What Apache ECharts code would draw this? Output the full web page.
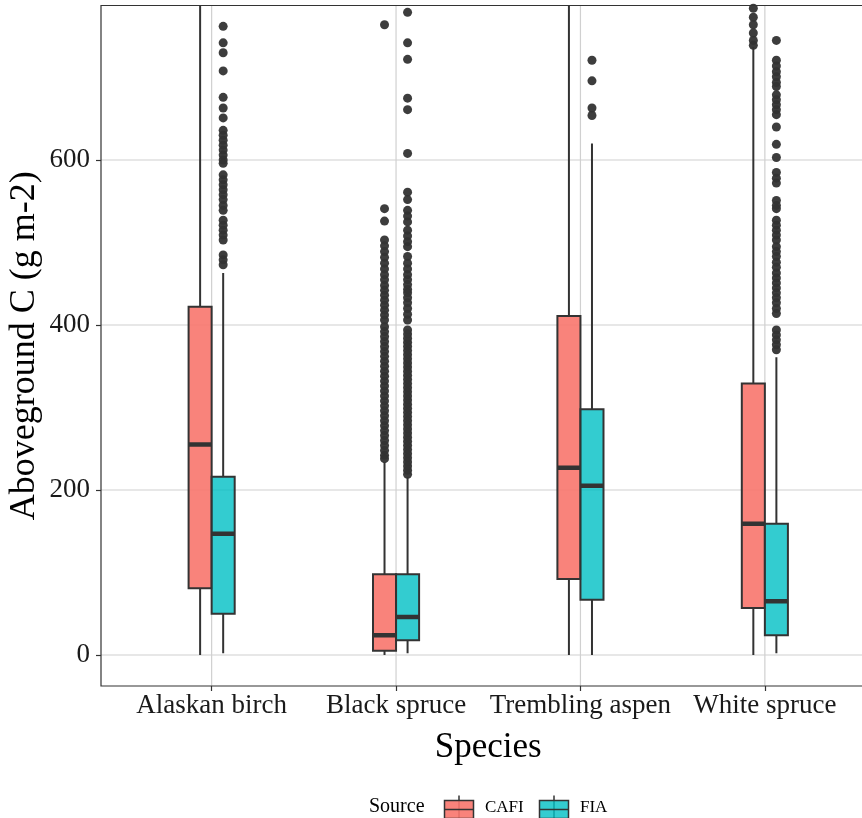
<!DOCTYPE html>
<html>
<head>
<meta charset="utf-8">
<script src="https://cdn.jsdelivr.net/npm/echarts@6/dist/echarts.min.js"></script>
<style>html,body{margin:0;padding:0;background:#fff}#c{width:862px;height:818px}</style>
</head>
<body>
<div id="c"></div>
<script>
// ---- data ----
const categories = ['Alaskan birch', 'Black spruce', 'Trembling aspen', 'White spruce'];
const sources = ['CAFI', 'FIA'];
const yTicks = [0, 200, 400, 600];
// [lower whisker, Q1, median, Q3, upper whisker]
const cafiStats = [
  [0, 81, 255, 422, 850],
  [0, 5, 24, 98, 234],
  [0, 92, 227, 411, 850],
  [0, 57, 159, 329, 737]
];
const fiaStats = [
  [2, 50, 147, 216, 463],
  [2, 18, 46, 98, 216],
  [0, 67, 205, 298, 620],
  [2, 24, 65, 159, 361]
];
const cafiOutliers = [
  [],
  [764, 541, 526, 503, 496, 489, 482, 475, 468, 461, 455, 448, 442, 436, 430, 424, 418, 412, 406, 398, 392, 386, 380, 374, 368, 362, 356, 350, 344, 338, 332, 326, 320, 314, 308, 302, 296, 290, 284, 278, 272, 266, 260, 254, 248, 242, 238],
  [],
  [784, 773, 764, 754, 745, 739]
];
const fiaOutliers = [
  [762, 742, 730, 708, 676, 663, 651, 636, 630, 624, 618, 612, 606, 600, 596, 582, 576, 570, 564, 558, 552, 545, 539, 527, 521, 515, 509, 503, 485, 479, 473],
  [779, 742, 722, 675, 661, 608, 561, 552, 539, 532, 525, 515, 508, 501, 495, 483, 475, 468, 461, 455, 449, 443, 439, 433, 427, 420, 413, 406, 394, 389, 384, 379, 374, 369, 364, 359, 354, 349, 344, 339, 334, 329, 324, 319, 314, 309, 304, 299, 294, 289, 284, 279, 274, 269, 264, 259, 254, 249, 244, 239, 234, 229, 224, 219],
  [721, 696, 663, 654],
  [745, 721, 714, 707, 701, 694, 689, 679, 673, 667, 661, 655, 640, 619, 603, 585, 578, 572, 551, 545, 541, 527, 521, 515, 509, 503, 495, 489, 483, 476, 470, 463, 457, 451, 445, 439, 433, 427, 420, 414, 394, 388, 382, 376, 370]
];

// ---- styling ----
const COLORS = { CAFI: 'rgba(248,118,109,0.9)', FIA: 'rgba(0,191,196,0.8)' };
const DODGE = 0.0625, BOX_W = 0.125;
const FONT = '"Liberation Serif", "Times New Roman", serif';
const INK = '#333333';

const chart = echarts.init(document.getElementById('c'), null, { renderer: 'canvas' });

function boxData(stats, off) {
  return stats.map((s, i) => [i + off].concat(s));
}
function outlierData(lists, off) {
  const out = [];
  lists.forEach((l, i) => l.forEach(v => out.push([i + off, v])));
  return out;
}
function renderBox(fill) {
  return function (params, api) {
    const x = api.value(0);
    const lo = api.coord([x, api.value(1)]);
    const q1 = api.coord([x, api.value(2)]);
    const md = api.coord([x, api.value(3)]);
    const q3 = api.coord([x, api.value(4)]);
    const hi = api.coord([x, api.value(5)]);
    const w = api.size([BOX_W, 0])[0];
    const ls = { stroke: INK, lineWidth: 2 };
    return {
      type: 'group',
      children: [
        { type: 'line', shape: { x1: lo[0], y1: lo[1], x2: q1[0], y2: q1[1] }, style: ls },
        { type: 'line', shape: { x1: q3[0], y1: q3[1], x2: hi[0], y2: hi[1] }, style: ls },
        { type: 'rect', shape: { x: q3[0] - w / 2, y: q3[1], width: w, height: q1[1] - q3[1] }, style: { fill: fill, stroke: INK, lineWidth: 2 } },
        { type: 'line', shape: { x1: md[0] - w / 2, y1: md[1], x2: md[0] + w / 2, y2: md[1] }, style: { stroke: INK, lineWidth: 4.5 } }
      ]
    };
  };
}
function renderVGrid(params, api) {
  const cs = params.coordSys;
  const p = api.coord([api.value(0), 0]);
  return { type: 'line', shape: { x1: p[0], y1: cs.y, x2: p[0], y2: cs.y + cs.height }, style: { stroke: '#d0d0d0', lineWidth: 1.2 } };
}
function renderHGrid(params, api) {
  const cs = params.coordSys;
  const p = api.coord([0, api.value(0)]);
  return { type: 'line', shape: { x1: cs.x, y1: p[1], x2: cs.x + cs.width, y2: p[1] }, style: { stroke: '#d0d0d0', lineWidth: 1.2 } };
}

const option = {
  animation: false,
  backgroundColor: '#ffffff',
  grid: { left: 101, top: 5.5, width: 774.5, height: 680.5, outerBoundsMode: 'none', containLabel: false, show: true, borderColor: INK, borderWidth: 1.2, backgroundColor: 'transparent', z: 10 },
  xAxis: {
    type: 'value', min: -0.6, max: 3.6,
    name: 'Species', nameLocation: 'middle', nameGap: 44, nameMoveOverlap: false,
    nameTextStyle: { fontFamily: FONT, fontSize: 35, color: '#000' },
    axisLine: { show: false, onZero: false },
    axisTick: { show: true, length: 5, lineStyle: { color: INK, width: 1.2 }, customValues: [0, 1, 2, 3] },
    axisLabel: { fontFamily: FONT, fontSize: 27, color: '#1a1a1a', margin: 6, customValues: [0, 1, 2, 3], formatter: v => categories[Math.round(v)] },
    splitLine: { show: false }
  },
  yAxis: {
    type: 'value', min: -37.6, max: 787.3,
    name: 'Aboveground C (g m-2)', nameLocation: 'middle', nameGap: 58, nameMoveOverlap: false,
    nameTextStyle: { fontFamily: FONT, fontSize: 36, color: '#000' },
    axisLine: { show: false, onZero: false },
    axisTick: { show: true, length: 5, lineStyle: { color: INK, width: 1.2 }, customValues: yTicks },
    axisLabel: { fontFamily: FONT, fontSize: 27, color: '#1a1a1a', margin: 11, customValues: yTicks },
    splitLine: { show: false }
  },
  series: [
    { type: 'custom', name: 'vgrid', renderItem: renderVGrid, data: categories.map((c, i) => [i]), z: 0, silent: true },
    { type: 'custom', name: 'hgrid', renderItem: renderHGrid, data: yTicks.map(v => [v]), z: 0, silent: true },
    { type: 'custom', name: sources[0], renderItem: renderBox(COLORS.CAFI), data: boxData(cafiStats, -DODGE), clip: true, z: 2, encode: { x: 0, y: [1, 2, 3, 4, 5] } },
    { type: 'custom', name: sources[1], renderItem: renderBox(COLORS.FIA), data: boxData(fiaStats, DODGE), clip: true, z: 2, encode: { x: 0, y: [1, 2, 3, 4, 5] } },
    { type: 'scatter', name: 'CAFI outliers', data: outlierData(cafiOutliers, -DODGE), symbolSize: 9, itemStyle: { color: INK, opacity: 0.95 }, z: 3, clip: true },
    { type: 'scatter', name: 'FIA outliers', data: outlierData(fiaOutliers, DODGE), symbolSize: 9, itemStyle: { color: INK, opacity: 0.95 }, z: 3, clip: true }
  ],
  graphic: [
    { type: 'text', left: 369, top: 797, style: { text: 'Source', font: '20px ' + FONT, fill: '#000' } },
    { type: 'group', left: 442, top: 793, children: [
      { type: 'line', shape: { x1: 14.5, y1: 0, x2: 14.5, y2: 28 }, style: { stroke: INK, lineWidth: 1.5 } },
      { type: 'rect', shape: { x: 0, y: 5, width: 29, height: 18 }, style: { fill: COLORS.CAFI, stroke: INK, lineWidth: 1.5 } },
      { type: 'line', shape: { x1: 0, y1: 14, x2: 29, y2: 14 }, style: { stroke: INK, lineWidth: 1.5 } }
    ] },
    { type: 'text', left: 485, top: 799, style: { text: 'CAFI', font: '17px ' + FONT, fill: '#000' } },
    { type: 'group', left: 537, top: 793, children: [
      { type: 'line', shape: { x1: 14.5, y1: 0, x2: 14.5, y2: 28 }, style: { stroke: INK, lineWidth: 1.5 } },
      { type: 'rect', shape: { x: 0, y: 5, width: 29, height: 18 }, style: { fill: COLORS.FIA, stroke: INK, lineWidth: 1.5 } },
      { type: 'line', shape: { x1: 0, y1: 14, x2: 29, y2: 14 }, style: { stroke: INK, lineWidth: 1.5 } }
    ] },
    { type: 'text', left: 580, top: 799, style: { text: 'FIA', font: '17px ' + FONT, fill: '#000' } }
  ]
};
chart.setOption(option);
</script>
</body>
</html>
